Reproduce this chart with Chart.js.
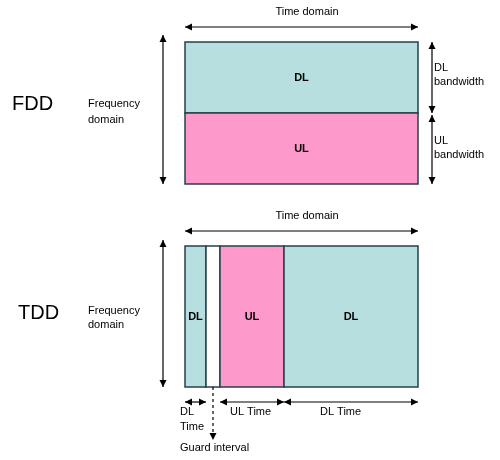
<!DOCTYPE html>
<html><head><meta charset="utf-8">
<script src="https://cdn.jsdelivr.net/npm/chart.js@4/dist/chart.umd.min.js"></script>
<style>html,body{margin:0;padding:0;background:#fff}#w{width:500px;height:460px}</style>
</head><body><div id="w"><canvas id="c"></canvas></div>
<script>
// Diagram data (in diagram units: x 0..500 time axis, y 0..460)
const fddBands = [ {label:"DL", y0:42, y1:113, color:"#b7dfe0"}, {label:"UL", y0:113, y1:184, color:"#fe99cb"} ];
const fddTime = [185, 418];
const tddSegments = [
  {label:"DL", x0:185, x1:206, color:"#b7dfe0"},
  {label:"",   x0:206, x1:220, color:"#ffffff"},
  {label:"UL", x0:220, x1:284, color:"#fe99cb"},
  {label:"DL", x0:284, x1:418, color:"#b7dfe0"}
];
const tddFreq = [246, 387];
const bottomLabels = [["DL","Time"],["UL Time"],["DL Time"]];

const diagram = {
  id:'diagram',
  afterDraw(chart){
    const ctx = chart.ctx, X = v=>chart.scales.x.getPixelForValue(v), Y = v=>chart.scales.y.getPixelForValue(v);
    const stroke = "#24404e";
    function arrowHead(x,y,ang){ctx.save();ctx.translate(x,y);ctx.rotate(ang);ctx.beginPath();ctx.moveTo(0,0);ctx.lineTo(-7,-3.5);ctx.lineTo(-7,3.5);ctx.closePath();ctx.fill();ctx.restore();}
    function dArrow(x1,y1,x2,y2){ctx.strokeStyle="#000";ctx.fillStyle="#000";ctx.lineWidth=1.2;ctx.beginPath();ctx.moveTo(X(x1),Y(y1));ctx.lineTo(X(x2),Y(y2));ctx.stroke();const a=Math.atan2(Y(y2)-Y(y1),X(x2)-X(x1));arrowHead(X(x2),Y(y2),a);arrowHead(X(x1),Y(y1),a+Math.PI);}
    function txt(s,x,y,font,align){ctx.fillStyle="#000";ctx.font=font;ctx.textAlign=align||"left";ctx.textBaseline="middle";ctx.fillText(s,X(x),Y(y));}
    const sm="11px 'Liberation Sans', Arial", bd="bold 11px 'Liberation Sans', Arial", big="20px 'Liberation Sans', Arial";
    // FDD
    fddBands.forEach(b=>{ctx.fillStyle=b.color;ctx.fillRect(X(fddTime[0]),Y(b.y0),X(fddTime[1])-X(fddTime[0]),Y(b.y1)-Y(b.y0));ctx.strokeStyle=stroke;ctx.lineWidth=1.5;ctx.strokeRect(X(fddTime[0]),Y(b.y0),X(fddTime[1])-X(fddTime[0]),Y(b.y1)-Y(b.y0));txt(b.label,(fddTime[0]+fddTime[1])/2,(b.y0+b.y1)/2,bd,"center");});
    txt("Time domain",307,12,sm,"center");
    dArrow(fddTime[0],27,fddTime[1],27);
    dArrow(163,35,163,184);
    dArrow(432,42,432,113); dArrow(432,115,432,184);
    txt("DL",434,68,sm);txt("bandwidth",434,82,sm);
    txt("UL",434,141,sm);txt("bandwidth",434,155,sm);
    txt("FDD",12,104,big);
    txt("Frequency",88,104,sm);txt("domain",88,120,sm);
    // TDD
    tddSegments.forEach(s=>{ctx.fillStyle=s.color;ctx.fillRect(X(s.x0),Y(tddFreq[0]),X(s.x1)-X(s.x0),Y(tddFreq[1])-Y(tddFreq[0]));ctx.strokeStyle=stroke;ctx.lineWidth=1.5;ctx.strokeRect(X(s.x0),Y(tddFreq[0]),X(s.x1)-X(s.x0),Y(tddFreq[1])-Y(tddFreq[0]));if(s.label)txt(s.label,(s.x0+s.x1)/2,317,bd,"center");});
    txt("Time domain",307,216,sm,"center");
    dArrow(185,231,418,231);
    dArrow(163,240,163,387);
    txt("TDD",18,313,big);
    txt("Frequency",88,311,sm);txt("domain",88,325,sm);
    dArrow(185,402,206,402);dArrow(220,402,284,402);dArrow(284,402,418,402);
    txt(bottomLabels[0][0],180,412,sm);txt(bottomLabels[0][1],180,427,sm);
    txt(bottomLabels[1][0],230,412,sm);txt(bottomLabels[2][0],320,412,sm);
    ctx.save();ctx.setLineDash([3,3]);ctx.strokeStyle="#000";ctx.beginPath();ctx.moveTo(X(213),Y(387));ctx.lineTo(X(213),Y(436));ctx.stroke();ctx.restore();
    ctx.fillStyle="#000";arrowHead(X(213),Y(440),Math.PI/2);
    txt("Guard interval",180,448,sm);
  }
};
new Chart(document.getElementById('c'),{
  type:'scatter',
  data:{datasets:[{data:[],showLine:false}]},
  options:{responsive:true,maintainAspectRatio:false,animation:false,
    layout:{padding:0},
    plugins:{legend:{display:false},tooltip:{enabled:false}},
    scales:{x:{type:'linear',min:0,max:500,display:false},y:{type:'linear',min:0,max:460,reverse:true,display:false}}},
  plugins:[diagram]
});
</script></body></html>
